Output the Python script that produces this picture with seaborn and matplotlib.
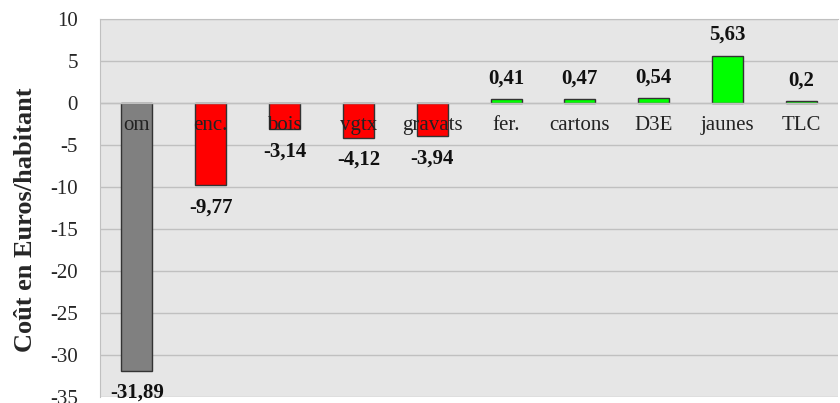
import pandas as pd
import seaborn as sns
import matplotlib.pyplot as plt

# data
categories = ['om', 'enc.', 'bois', 'vgtx', 'gravats', 'fer.', 'cartons', 'D3E', 'jaunes', 'TLC']
values = [-31.89, -9.77, -3.14, -4.12, -3.94, 0.41, 0.47, 0.54, 5.63, 0.2]
colours = ['#808080', '#ff0000', '#ff0000', '#ff0000', '#ff0000',
           '#00ff00', '#00ff00', '#00ff00', '#00ff00', '#00ff00']

df = pd.DataFrame({'cat': categories, 'val': values})

sns.set_style('whitegrid')
plt.rcParams['font.family'] = ['Liberation Serif', 'DejaVu Serif']
plt.rcParams['axes.unicode_minus'] = False

fig = plt.figure(figsize=(8.4, 4.03), dpi=100)
ax = fig.add_axes([0.119, 0.015, 0.879, 0.938])
ax.set_facecolor('#e6e6e6')

sns.barplot(data=df, x='cat', y='val', hue='cat', palette=colours, legend=False,
            saturation=1, width=0.42, edgecolor='#333333', linewidth=1, ax=ax)

ax.set_ylim(-35, 10)
ax.set_yticks(range(-35, 11, 5))
ax.set_xlim(-0.5, len(categories) - 0.5)
ax.grid(axis='y', color='#c0c0c0', linewidth=1)
ax.grid(axis='x', visible=False)
ax.set_axisbelow(True)
ax.axhline(0, color='#c0c0c0', linewidth=1, zorder=1.5)
for side in ['top', 'left']:
    ax.spines[side].set_color('#c0c0c0')
for side in ['right', 'bottom']:
    ax.spines[side].set_visible(False)

ax.tick_params(axis='y', labelsize=15, length=0, pad=16)
ax.set_xticks([])
ax.set_xlabel('')
ax.set_ylabel('Coût en Euros/habitant', fontsize=19, fontweight='bold')
ax.yaxis.set_label_coords(-0.085, 0.468)

# category names sit on the zero line
for i, c in enumerate(categories):
    ax.text(i, -2.7, c, ha='center', va='center', fontsize=15, color='#222222', zorder=5)

# value labels
for i, v in enumerate(values):
    txt = str(v).replace('.', ',')
    off = 15 if v > 0 else -16
    ax.annotate(txt, (i, v), xytext=(0, off), textcoords='offset points',
                ha='center', va='center', fontsize=15, fontweight='bold', color='#111111',
                annotation_clip=False)

fig.savefig('out.png', dpi=100)
